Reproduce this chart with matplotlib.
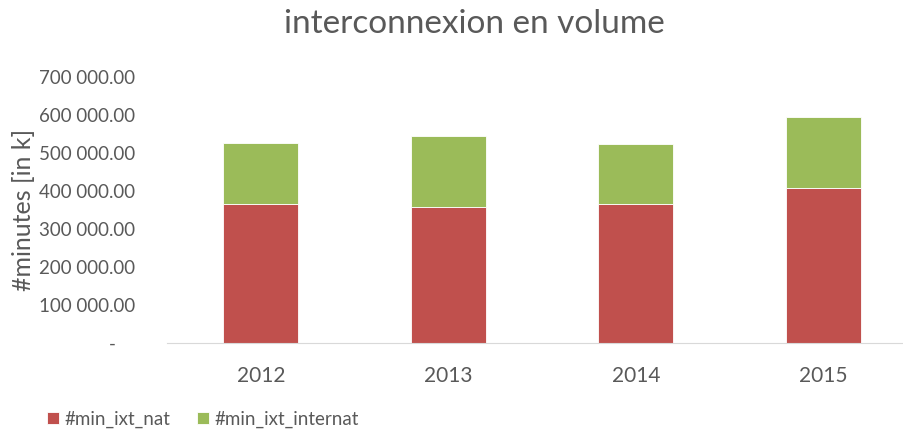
import matplotlib.pyplot as plt
from matplotlib.ticker import FuncFormatter

years = ["2012", "2013", "2014", "2015"]
min_ixt_nat = [364800, 358500, 364800, 408400]
min_ixt_internat = [161700, 184800, 159100, 184800]

RED = "#C0504D"
GREEN = "#9BBB59"
GREY = "#595959"

plt.rcParams["font.family"] = ["Lato", "DejaVu Sans"]


def fmt(v, pos):
    if v == 0:
        return "-    "
    return "{:,.2f}".format(v).replace(",", " ")


def make_chart():
    fig = plt.figure(figsize=(9.04, 4.32), dpi=100)
    ax = fig.add_axes([0.185, 0.2053, 0.815, 0.6172])

    x = list(range(len(years)))
    ax.bar(x, min_ixt_nat, width=0.4, color=RED, edgecolor="white", linewidth=0.6,
           label="#min_ixt_nat")
    ax.bar(x, min_ixt_internat, width=0.4, bottom=min_ixt_nat, color=GREEN,
           edgecolor="white", linewidth=0.6, label="#min_ixt_internat")

    ax.set_xlim(-0.5, 3.43)
    ax.set_ylim(0, 700000)
    ax.set_yticks(range(0, 700001, 100000))
    ax.yaxis.set_major_formatter(FuncFormatter(fmt))
    ax.set_xticks(x)
    ax.set_xticklabels(years)

    for s in ["top", "right", "left"]:
        ax.spines[s].set_visible(False)
    ax.spines["bottom"].set_color("#D9D9D9")
    ax.tick_params(axis="both", length=0, colors=GREY)
    ax.tick_params(axis="x", pad=16, labelsize=15)
    ax.tick_params(axis="y", pad=23, labelsize=13.5)

    ax.set_ylabel("#minutes [in k]", fontsize=18, color=GREY, labelpad=3)
    fig.text(0.525, 0.945, "interconnexion en volume", ha="center", va="center",
             fontsize=24, color=GREY)

    fig.legend(loc="center left", bbox_to_anchor=(0.033, 0.03), ncol=2, frameon=False,
               fontsize=13.5, handlelength=0.65, handleheight=0.65, handletextpad=0.3,
               columnspacing=1.4, labelcolor=GREY)

    fig.savefig("out.png", dpi=100)


if __name__ == "__main__":
    make_chart()
